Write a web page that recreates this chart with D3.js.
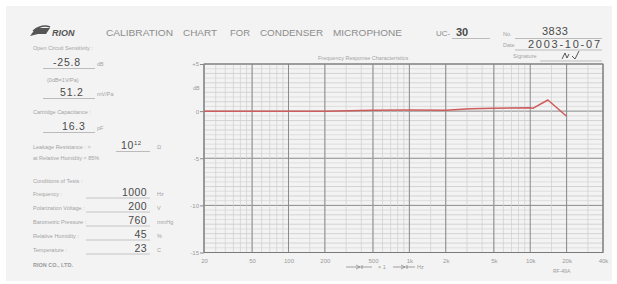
<!DOCTYPE html>
<html><head><meta charset="utf-8">
<script src="https://cdn.jsdelivr.net/npm/d3@7"></script>
<style>
html,body{margin:0;padding:0;background:#fff;}
svg{display:block;font-family:"Liberation Sans",Arial,sans-serif;}
</style></head>
<body>
<svg id="c" width="617" height="284"></svg>
<script>
// ---- data ----
const freqs      = [20, 50, 100, 200, 500, 1000, 2000, 3200, 5000, 10000, 10500, 14000, 20000];
const responseDb = [0, 0, 0, 0, 0.1, 0.12, 0.08, 0.25, 0.3, 0.36, 0.3, 1.18, -0.55];
const xTickValues = [20, 50, 100, 200, 500, 1000, 2000, 5000, 10000, 20000, 40000];
const xTickLabels = ["20","50","100","200","500","1k","2k","5k","10k","20k","40k"];
const yTickValues = [5, 0, -5, -10, -15];
const yTickLabels = ["+5","0","-5","-10","-15"];
const titleWords = ["CALIBRATION","CHART","FOR","CONDENSER","MICROPHONE"];
const modelName = "30";
const serialNo = "3833";
const calDate = "2003-10-07";
const infoLabels = ["Open Circuit Sensitivity :","(0dB=1V/Pa)","Cartridge Capacitance :","Leakage Resistance : >","at Relative Humidity < 85%"];
const infoValues = ["-25.8","51.2","16.3","10"];
const infoUnits = ["dB","mV/Pa","pF","Ω"];
const condLabels = ["Frequency :","Polarization Voltage :","Barometric Pressure :","Relative Humidity :","Temperature :"];
const condValues = ["1000","200","760","45","23"];
const condUnits = ["Hz","V","mmHg","%","C"];

const svg = d3.select("#c");
// paper
svg.append("rect").attr("x",6).attr("y",6).attr("width",606).attr("height",275).attr("fill","#f3f3f3");

const x = d3.scaleLog().domain([20,40000]).range([204,603]);
const y = d3.scaleLinear().domain([-15,5]).range([252.5,64]);

const labelCol = "#a3a3a3", valCol = "#4a4a4a";

// ---- header ----
const logo = svg.append("g");
logo.append("path").attr("d","M30,36 L36,28 L50,28 L46,34 L38,34 Z").attr("fill","#555");
logo.append("path").attr("d","M33,31 Q42,24 50,27").attr("fill","none").attr("stroke","#555").attr("stroke-width",1.5);
logo.append("text").attr("x",52).attr("y",36).attr("font-size",9).attr("font-weight","bold").attr("font-style","italic").attr("fill","#555").text("RION");

const titleX = [106,183,230,260,333];
const titleW = [67,34,20,63,69];
titleWords.forEach((w,i)=>{
  svg.append("text").attr("x",titleX[i]).attr("y",36).attr("font-size",9.5).attr("fill","#8c8c8c")
    .attr("textLength",titleW[i]).attr("lengthAdjust","spacingAndGlyphs").text(w);
});
svg.append("text").attr("x",436).attr("y",36).attr("font-size",8).attr("fill","#8c8c8c").text("UC-");
svg.append("text").attr("x",456).attr("y",36).attr("font-size",11).attr("font-weight","bold").attr("fill",valCol).text(modelName);
svg.append("line").attr("x1",452).attr("x2",490).attr("y1",38.5).attr("y2",38.5).attr("stroke","#bbb");
svg.append("text").attr("x",503).attr("y",36).attr("font-size",5.5).attr("fill",labelCol).text("No.");
svg.append("text").attr("x",542).attr("y",35).attr("font-size",11).attr("fill",valCol).attr("letter-spacing",0.5).text(serialNo);
svg.append("line").attr("x1",515).attr("x2",602).attr("y1",38.5).attr("y2",38.5).attr("stroke","#bbb");
svg.append("text").attr("x",503).attr("y",47).attr("font-size",5.5).attr("fill",labelCol).text("Date");
svg.append("text").attr("x",528).attr("y",47.5).attr("font-size",11).attr("fill",valCol)
  .attr("textLength",72).attr("lengthAdjust","spacing").text(calDate);
svg.append("line").attr("x1",515).attr("x2",602).attr("y1",50).attr("y2",50).attr("stroke","#bbb");
svg.append("text").attr("x",513).attr("y",58).attr("font-size",5.5).attr("fill",labelCol).text("Signature");
svg.append("path").attr("d","M562,59 L565,53 L567,58 L569,54 M572,56 L575,59 L579,51").attr("fill","none").attr("stroke","#444").attr("stroke-width",0.9);
svg.append("line").attr("x1",540).attr("x2",602).attr("y1",61).attr("y2",61).attr("stroke","#bbb");
svg.append("text").attr("x",318).attr("y",60).attr("font-size",5.5).attr("fill",labelCol).text("Frequency Response Characteristics");

// ---- left info ----
const small = 5.5;
svg.append("text").attr("x",33).attr("y",50).attr("font-size",small).attr("fill",labelCol).text(infoLabels[0]);
svg.append("text").attr("x",53).attr("y",66).attr("font-size",10.5).attr("fill",valCol).attr("letter-spacing",0.8).text(infoValues[0]);
svg.append("text").attr("x",97).attr("y",66).attr("font-size",small).attr("fill",labelCol).text(infoUnits[0]);
svg.append("line").attr("x1",43).attr("x2",95).attr("y1",68.5).attr("y2",68.5).attr("stroke","#bbb");
svg.append("text").attr("x",47).attr("y",82).attr("font-size",small).attr("fill",labelCol).text(infoLabels[1]);
svg.append("text").attr("x",60).attr("y",96).attr("font-size",10.5).attr("fill",valCol).attr("letter-spacing",0.8).text(infoValues[1]);
svg.append("text").attr("x",97).attr("y",96).attr("font-size",small).attr("fill",labelCol).text(infoUnits[1]);
svg.append("line").attr("x1",43).attr("x2",95).attr("y1",98.5).attr("y2",98.5).attr("stroke","#bbb");
svg.append("text").attr("x",33).attr("y",114).attr("font-size",small).attr("fill",labelCol).text(infoLabels[2]);
svg.append("text").attr("x",62).attr("y",130).attr("font-size",10.5).attr("fill",valCol).attr("letter-spacing",0.8).text(infoValues[2]);
svg.append("text").attr("x",97).attr("y",130).attr("font-size",small).attr("fill",labelCol).text(infoUnits[2]);
svg.append("line").attr("x1",43).attr("x2",95).attr("y1",132.5).attr("y2",132.5).attr("stroke","#bbb");
svg.append("text").attr("x",33).attr("y",149).attr("font-size",small).attr("fill",labelCol).text(infoLabels[3]);
const lr = svg.append("text").attr("x",121).attr("y",149).attr("font-size",10.5).attr("fill",valCol).attr("letter-spacing",0.6).text(infoValues[3]);
lr.append("tspan").attr("dy",-4).attr("font-size",6).text("12");
svg.append("text").attr("x",157).attr("y",149).attr("font-size",small).attr("fill",labelCol).text(infoUnits[3]);
svg.append("line").attr("x1",116).attr("x2",150).attr("y1",151.5).attr("y2",151.5).attr("stroke","#bbb");
svg.append("text").attr("x",33).attr("y",160).attr("font-size",small).attr("fill",labelCol).text(infoLabels[4]);
svg.append("text").attr("x",33).attr("y",183).attr("font-size",small).attr("fill",labelCol).text("Conditions of Tests :");
const condY = [196,210,224,238,252];
condLabels.forEach((l,i)=>{
  svg.append("text").attr("x",33).attr("y",condY[i]).attr("font-size",small).attr("fill",labelCol).text(l);
  svg.append("text").attr("x",147).attr("y",condY[i]).attr("text-anchor","end").attr("font-size",10.5).attr("fill",valCol).attr("letter-spacing",0.4).text(condValues[i]);
  svg.append("text").attr("x",157).attr("y",condY[i]).attr("font-size",small).attr("fill",labelCol).text(condUnits[i]);
  svg.append("line").attr("x1",86).attr("x2",150).attr("y1",condY[i]+2).attr("y2",condY[i]+2).attr("stroke","#c4c4c4");
});
svg.append("text").attr("x",33).attr("y",267).attr("font-size",small).attr("font-weight","bold").attr("fill","#9a9a9a").text("RION CO., LTD.");

// ---- grid ----
const g = svg.append("g");
const [x0,x1] = x.range(), [yb,yt] = y.range();
d3.range(-15,5.001,0.5).forEach(v=>{
  const major = Math.abs(v%5)<1e-6;
  const one = Math.abs(v%1)<1e-6;
  g.append("line").attr("x1",x0).attr("x2",x1).attr("y1",y(v)).attr("y2",y(v))
   .attr("stroke", major? "#8a8a8a" : (one? "#c6c6c6":"#d6d6d6")).attr("stroke-width", major?1:0.7);
});
const minor = [];
[10,100,1000,10000].forEach(d=>{ [2,3,4,5,6,7,8,9].forEach(m=>{ const f=m*d; if(f>=20&&f<=40000) minor.push(f); }); });
[150,1500,15000,25,35,45].forEach(f=>minor.push(f));
minor.forEach(f=>{
  g.append("line").attr("x1",x(f)).attr("x2",x(f)).attr("y1",yt).attr("y2",yb).attr("stroke","#cfcfcf").attr("stroke-width",0.7);
});
xTickValues.forEach(f=>{
  g.append("line").attr("x1",x(f)).attr("x2",x(f)).attr("y1",yt).attr("y2",yb).attr("stroke","#8a8a8a").attr("stroke-width",1);
});
g.append("rect").attr("x",x0).attr("y",yt).attr("width",x1-x0).attr("height",yb-yt).attr("fill","none").attr("stroke","#7a7a7a").attr("stroke-width",1);

// axes
const xAxis = d3.axisBottom(x).tickValues(xTickValues).tickFormat((d,i)=>xTickLabels[i]).tickSize(0).tickPadding(6);
const xa = svg.append("g").attr("transform",`translate(0,${yb})`).call(xAxis);
xa.select(".domain").remove();
xa.selectAll("text").attr("font-size",6).attr("fill","#9a9a9a").attr("font-family","Liberation Sans, Arial, sans-serif");
const yAxis = d3.axisLeft(y).tickValues(yTickValues).tickFormat((d,i)=>yTickLabels[i]).tickSize(4).tickPadding(1);
const ya = svg.append("g").attr("transform",`translate(${x0},0)`).call(yAxis);
ya.select(".domain").remove();
ya.selectAll("line").attr("stroke","#8a8a8a");
ya.selectAll("text").attr("font-size",6).attr("fill","#9a9a9a").attr("font-family","Liberation Sans, Arial, sans-serif");
svg.append("text").attr("x",193).attr("y",90).attr("font-size",5.5).attr("fill","#9a9a9a").text("dB");

// ---- curve ----
const pts = freqs.map((f,i)=>[f,responseDb[i]]);
svg.append("path").datum(pts)
  .attr("d", d3.line().x(d=>x(d[0])).y(d=>y(d[1])))
  .attr("fill","none").attr("stroke","#cd5c5c").attr("stroke-width",1.5).attr("stroke-linejoin","round");

// ---- footer ----
const ft = svg.append("g").attr("stroke","#8a8a8a").attr("stroke-width",0.8);
ft.append("line").attr("x1",346).attr("x2",372).attr("y1",267).attr("y2",267);
ft.append("path").attr("d","M356,265 L360,267 L356,269").attr("fill","none");
ft.append("line").attr("x1",362).attr("x2",362).attr("y1",265).attr("y2",269);
ft.append("line").attr("x1",393).attr("x2",415).attr("y1",267).attr("y2",267);
ft.append("path").attr("d","M401,265 L405,267 L401,269").attr("fill","none");
ft.append("line").attr("x1",407).attr("x2",407).attr("y1",265).attr("y2",269);
svg.append("text").attr("x",378).attr("y",269).attr("font-size",5.5).attr("fill","#9a9a9a").text("× 1");
svg.append("text").attr("x",417).attr("y",269).attr("font-size",5.5).attr("fill","#9a9a9a").text("Hz");
svg.append("text").attr("x",553).attr("y",273).attr("font-size",5).attr("fill","#9a9a9a").text("RF-49A");
</script>
</body></html>
